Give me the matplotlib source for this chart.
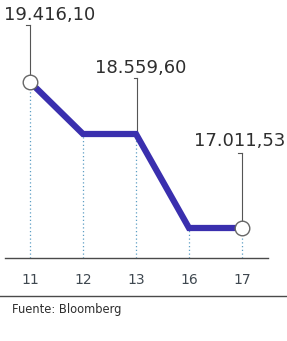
import matplotlib
matplotlib.use("Agg")
import matplotlib.pyplot as plt
from matplotlib.lines import Line2D
import matplotlib.transforms as mtransforms

# ---- data ----
days = ["11", "12", "13", "16", "17"]
values = [19416.10, 18559.60, 18559.60, 17011.53, 17011.53]
labels = ["19.416,10", "", "18.559,60", "", "17.011,53"]
open_markers = [0, 4]
source = "Fuente: Bloomberg"

W, H = 287, 341
fig = plt.figure(figsize=(W / 100, H / 100), dpi=100)
fig.patch.set_facecolor("white")
ax = fig.add_axes([0, 0, 1, 1])
ax.set_axis_off()

# layout: x index -> pixel 30 + 53*i ; value scale 16.47 per pixel, 19416.1 at y=82
step = 53.0
x0 = 30.0
ax.set_xlim(-x0 / step, (W - x0) / step)
vpp = 16.47
ytop = 19416.1 + 82 * vpp
ybot = 19416.1 - (H - 82) * vpp
ax.set_ylim(ybot, ytop)

def pyv(py):
    return ytop - py / H * (ytop - ybot)

xs = list(range(len(days)))
base_val = pyv(258)

# dotted drop lines
for i, v in zip(xs, values):
    ax.plot([i, i], [base_val, v], color="#5d9fc4", lw=0.9, ls=(0, (1, 2)), zorder=1)

# main line
ax.plot(xs, values, color="#3a2fae", lw=4.5, solid_joinstyle="miter",
        solid_capstyle="butt", zorder=3)
for i in open_markers:
    ax.plot(i, values[i], "o", ms=10.5, mfc="white", mec="#666666", mew=1.0, zorder=4)

# leader lines + labels
text_color = "#2e2e2e"
leader = {0: (25, 74.5, (50, 15)), 2: (78, 134, (141, 68)), 4: (153, 221, (240, 141))}
for i, (ytop_px, ybot_px, (tx, ty)) in leader.items():
    xi = xs[i] + (1.5 / step if i == 2 else 0)
    ax.plot([xi, xi], [pyv(ytop_px), pyv(ybot_px)], color="#555555", lw=0.8, zorder=2)
    ax.plot([xi - 3.5 / step, xi], [pyv(ytop_px), pyv(ytop_px)], color="#555555", lw=0.8, zorder=2)
    fig.text(tx / W, 1 - ty / H, labels[i], ha="center", va="center",
             fontsize=13, color=text_color, family="DejaVu Sans")

# baseline and separator
fig.add_artist(Line2D([5 / W, 268 / W], [1 - 258 / H] * 2, color="#4a4a4a", lw=1.0))
fig.add_artist(Line2D([0, 1], [1 - 296 / H] * 2, color="#4a4a4a", lw=1.0))

# tick labels
trans = mtransforms.blended_transform_factory(ax.transData, fig.transFigure)
for i, d in zip(xs, days):
    ax.text(i, 1 - 280 / H, d, transform=trans, ha="center", va="center",
            fontsize=10, color="#3f4850",
            family=["Liberation Sans Narrow", "DejaVu Sans"])

fig.text(12 / W, 1 - 309 / H, source, ha="left", va="center",
         fontsize=8.3, color=text_color, family="DejaVu Sans")

fig.savefig("out.png", dpi=100, facecolor="white")
